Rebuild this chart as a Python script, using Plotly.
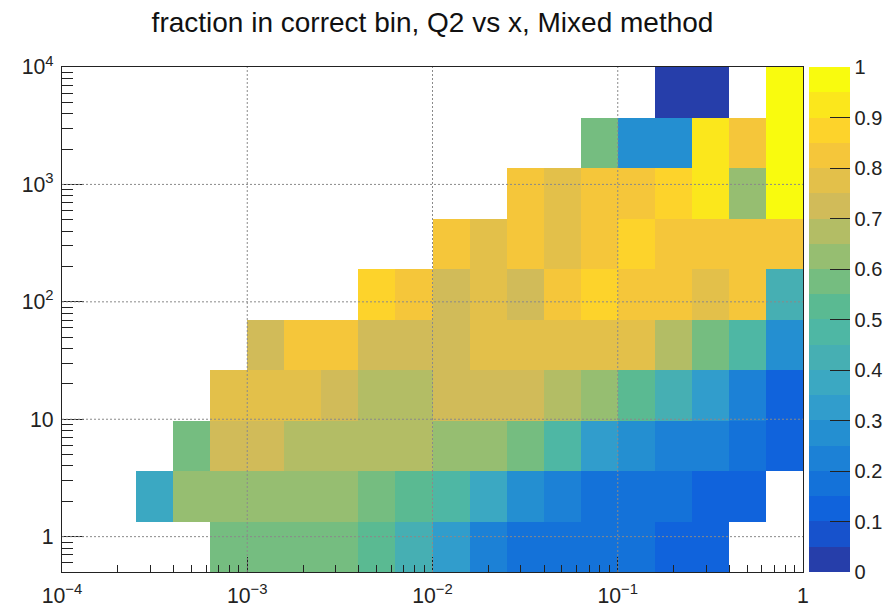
import numpy as np
import plotly.graph_objects as go

# ---- data -----------------------------------------------------------
TITLE = "fraction in correct bin, Q2 vs x, Mixed method"

# binning (log10 of edges)
X_LOG_MIN, X_LOG_MAX, N_XBINS = -4.0, 0.0, 20
Y_MIN, Y_MAX, N_YBINS = 0.5, 1e4, 10

N = None
# rows from lowest Q2 bin (bottom) to highest (top); 20 x-bins each
row0 = [N, N, N, N, 0.575, 0.575, 0.575, 0.575, 0.525, 0.425, 0.325, 0.225, 0.175, 0.175, 0.175, 0.175, 0.125, 0.125, N, N]
row1 = [N, N, 0.375, 0.625, 0.625, 0.625, 0.625, 0.625, 0.575, 0.525, 0.475, 0.375, 0.275, 0.225, 0.175, 0.175, 0.175, 0.125, 0.125, N]
row2 = [N, N, N, 0.575, 0.725, 0.725, 0.675, 0.675, 0.675, 0.675, 0.625, 0.625, 0.575, 0.475, 0.325, 0.275, 0.225, 0.225, 0.175, 0.125]
row3 = [N, N, N, N, 0.775, 0.775, 0.775, 0.725, 0.675, 0.675, 0.725, 0.725, 0.725, 0.675, 0.625, 0.525, 0.425, 0.325, 0.225, 0.125]
row4 = [N, N, N, N, N, 0.725, 0.825, 0.825, 0.725, 0.725, 0.725, 0.775, 0.775, 0.775, 0.775, 0.775, 0.675, 0.575, 0.475, 0.275]
row5 = [N, N, N, N, N, N, N, N, 0.875, 0.825, 0.725, 0.775, 0.725, 0.825, 0.875, 0.825, 0.825, 0.775, 0.825, 0.425]
row6 = [N, N, N, N, N, N, N, N, N, N, 0.825, 0.775, 0.825, 0.775, 0.825, 0.875, 0.825, 0.825, 0.825, 0.825]
row7 = [N, N, N, N, N, N, N, N, N, N, N, N, 0.825, 0.775, 0.825, 0.825, 0.875, 0.925, 0.625, 0.975]
row8 = [N, N, N, N, N, N, N, N, N, N, N, N, N, N, 0.575, 0.275, 0.275, 0.925, 0.825, 0.975]
row9 = [N, N, N, N, N, N, N, N, N, N, N, N, N, N, N, N, 0.025, 0.025, N, 0.975]
Z = [row0, row1, row2, row3, row4, row5, row6, row7, row8, row9]

X_GRID = [1e-3, 1e-2, 1e-1]
Y_GRID = [1, 10, 100, 1000]

# ---- binning edges -------------------------------------------------
x_edges = 10 ** np.linspace(X_LOG_MIN, X_LOG_MAX, N_XBINS + 1)
y_edges = 10 ** np.linspace(np.log10(Y_MIN), np.log10(Y_MAX), N_YBINS + 1)

# ---- ROOT kBird palette, 20 discrete contours ----------------------
stops = np.linspace(0, 1, 9)
red = [0.2082, 0.0592, 0.0780, 0.0232, 0.1802, 0.5301, 0.8186, 0.9956, 0.9764]
green = [0.1664, 0.3599, 0.5041, 0.6419, 0.7178, 0.7492, 0.7328, 0.7862, 0.9832]
blue = [0.5293, 0.8684, 0.8385, 0.7914, 0.6425, 0.4662, 0.3499, 0.1968, 0.0539]
# screenshot colour shift seen in the reference (red lift in cyan range)
RED_LIFT = [0, 0, 0, 2, 8, 22, 40, 45, 40, 32, 8, 0, 0, 0, 0, 0, 0, 0, 0, 0]


def bird(t, lift=0):
    r = min(255, np.interp(t, stops, red) * 255 + lift)
    g = np.interp(t, stops, green) * 255
    b = np.interp(t, stops, blue) * 255
    return f"rgb({int(round(r))},{int(round(g))},{int(round(b))})"


NLEV = 20
cscale = []
for i in range(NLEV):
    c = bird((i + 1) / NLEV, RED_LIFT[i])
    cscale.append([i / NLEV, c])
    cscale.append([(i + 1) / NLEV, c])

# ---- figure ---------------------------------------------------------
W, H = 892, 611
L, R, T, B = 62, 89, 67, 39
FONT = "Liberation Sans, Arial, Helvetica, sans-serif"
INK = "#222"

fig = go.Figure()
fig.add_trace(go.Heatmap(
    x=x_edges, y=y_edges, z=Z,
    zmin=0, zmax=1, colorscale=cscale, hoverongaps=False,
    colorbar=dict(
        xref="container", x=809 / W, xanchor="left", xpad=0,
        y=0.5, yanchor="middle", len=1, lenmode="fraction", ypad=0,
        thickness=41, thicknessmode="pixels", outlinewidth=0,
        tick0=0, dtick=0.1, ticks="inside", ticklen=20,
        tickcolor=INK, tickwidth=1,
        tickfont=dict(family=FONT, size=20, color=INK),
    ),
))

GRID_LINE = dict(color="#8a8a8a", width=1, dash="2px,2px")
for xv in X_GRID:
    fig.add_shape(type="line", xref="x", yref="paper", x0=xv, x1=xv, y0=0, y1=1,
                  line=GRID_LINE, layer="above")
for yv in Y_GRID:
    fig.add_shape(type="line", xref="paper", yref="y", x0=0, x1=1, y0=yv, y1=yv,
                  line=GRID_LINE, layer="above")

axis_common = dict(
    type="log", showgrid=False, zeroline=False, automargin=False,
    showline=True, linecolor=INK, linewidth=1, mirror=True,
    ticks="inside", tickcolor=INK, tickwidth=1,
    exponentformat="power", dtick=1, layer="above traces",
)

fig.update_xaxes(
    **axis_common,
    range=[X_LOG_MIN, X_LOG_MAX], ticklen=15,
    tickfont=dict(family=FONT, size=17, color=INK),
    ticklabelstandoff=5,
    minor=dict(ticks="inside", ticklen=7, tickcolor=INK, dtick="D1", showgrid=False),
)
fig.update_yaxes(
    **axis_common,
    range=[np.log10(Y_MIN), np.log10(Y_MAX)], ticklen=22,
    tickfont=dict(family=FONT, size=17, color=INK),
    ticklabelstandoff=4,
    minor=dict(ticks="inside", ticklen=11, tickcolor=INK, dtick="D1", showgrid=False),
)

fig.update_layout(
    width=W, height=H,
    margin=dict(l=L, r=R, t=T, b=B),
    paper_bgcolor="white", plot_bgcolor="white",
    title=dict(text=TITLE, x=0.5, xref="paper", xanchor="center",
               y=1 - 22 / H, yref="container", yanchor="middle",
               font=dict(family=FONT, size=28, color="#111")),
    showlegend=False,
)

fig.write_html("out.html")
